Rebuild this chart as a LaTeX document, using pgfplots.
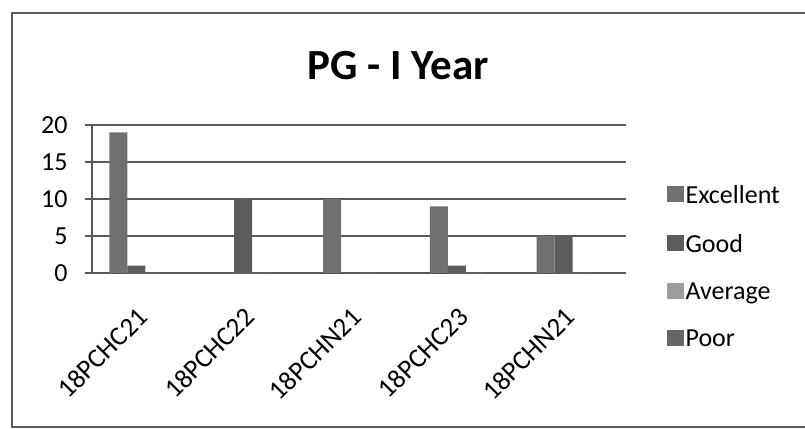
\documentclass[border=0pt]{standalone}
\usepackage{pgfplots}
\pgfplotsset{compat=1.18}
\usepackage{fontspec}
\setmainfont{Carlito}

\definecolor{cExc}{gray}{0.44}
\definecolor{cGood}{gray}{0.36}
\definecolor{cAvg}{gray}{0.62}
\definecolor{cPoor}{gray}{0.40}
\definecolor{cGrid}{gray}{0.35}

\begin{document}
\begin{tikzpicture}
\useasboundingbox (0,0) rectangle (805pt,430pt);
% chart area frame (right side cut off in the scan)
\draw[cGrid, line width=1.3pt] (805pt,417pt) -- (12pt,417pt) -- (12pt,3pt) -- (805pt,3pt);
\begin{axis}[
    at={(92pt,157pt)}, anchor=south west,
    scale only axis,
    width=534pt, height=148pt,
    ybar=0pt, bar width=18pt,
    xmin=-0.5, xmax=4.5,
    ymin=0, ymax=20,
    ytick={0,5,10,15,20},
    xtick={0,1,2,3,4},
    xticklabels={18PCHC21,18PCHC22,18PCHN21,18PCHC23,18PCHN21},
    xticklabel style={rotate=45, anchor=east, font=\fontsize{27}{30}\selectfont},
    xticklabel shift=30pt,
    yticklabel style={font=\fontsize{26}{30}\selectfont, xshift=-14pt},
    /pgf/number format/assume math mode=true,
    axis x line*=bottom, axis y line*=left,
    axis line style={cGrid, line width=1.3pt},
    ymajorgrids, grid style={cGrid, line width=1.3pt},
    major tick length=7pt,
    xtick style={draw=none},
    ytick style={cGrid, line width=1.3pt},
    ytick align=outside,
    title={PG - I Year},
    title style={at={(0.573,1.36)}, anchor=center, font=\bfseries\fontsize{43}{50}\selectfont},
    legend style={at={(1.07,0.62)}, anchor=north west, draw=none, fill=none,
        font=\fontsize{26}{30}\selectfont, row sep=25pt,
        legend cell align=left,
        /tikz/every even column/.append style={column sep=6pt}},
    legend image code/.code={\fill[#1] (0pt,-7pt) rectangle (17pt,9pt);},
]
\addplot[fill=cExc, draw=none] coordinates {(0,19) (1,0) (2,10) (3,9) (4,5)};
\addplot[fill=cGood, draw=none] coordinates {(0,1) (1,10) (2,0) (3,1) (4,5)};
\addplot[fill=cAvg, draw=none] coordinates {(0,0) (1,0) (2,0) (3,0) (4,0)};
\addplot[fill=cPoor, draw=none] coordinates {(0,0) (1,0) (2,0) (3,0) (4,0)};
\legend{Excellent,Good,Average,Poor}
\end{axis}
\end{tikzpicture}
\end{document}
